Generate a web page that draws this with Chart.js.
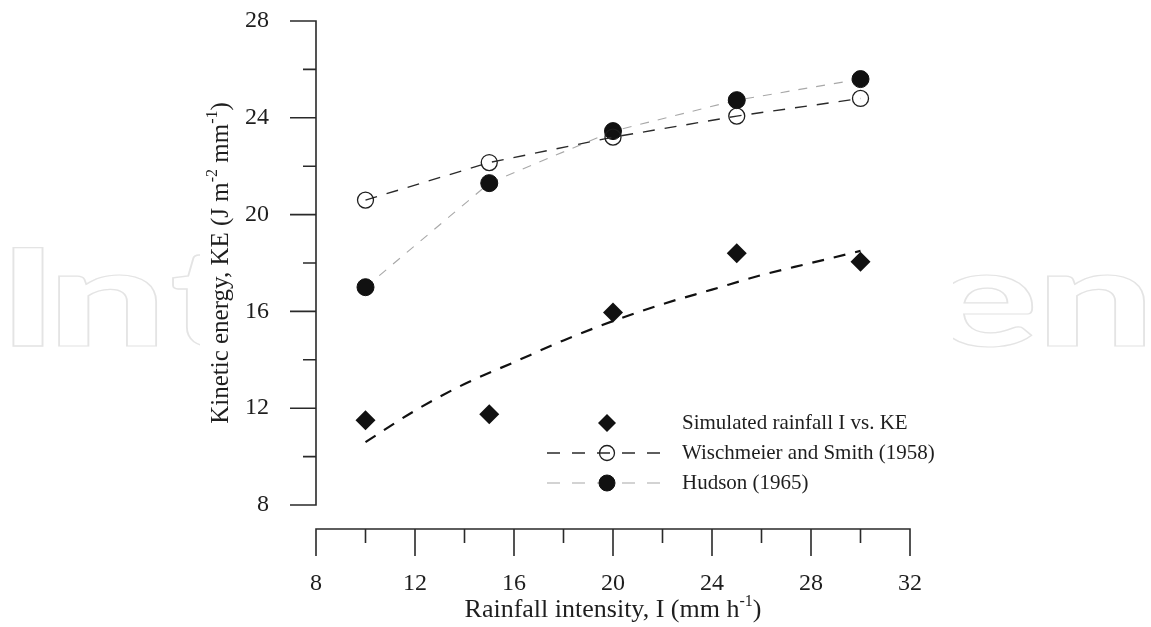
<!DOCTYPE html>
<html><head><meta charset="utf-8">
<script src="https://cdn.jsdelivr.net/npm/chart.js@4.4.1/dist/chart.umd.min.js"></script>
<style>html,body{margin:0;padding:0;background:#fff}#wrap{width:1151px;height:627px;position:relative}</style>
</head><body><div id="wrap"><canvas id="c"></canvas></div>
<script>
// ---- data ----
const intensity = [10, 15, 20, 25, 30];
const simulatedKE = [11.5, 11.75, 15.95, 18.4, 18.05];
const wischmeierKE = [20.6, 22.15, 23.2, 24.07, 24.8];
const hudsonKE = [17.0, 21.3, 23.45, 24.73, 25.6];
const fitIntensity = [10, 12, 14, 16, 18, 20, 22, 24, 26, 28, 30];
const fitKE = [10.6, 11.9, 13.0, 13.9, 14.8, 15.6, 16.3, 16.9, 17.5, 18.0, 18.5];
const xRange = [8, 32];
const yRange = [8, 28];
const tickStep = 4;
const seriesNames = ['Simulated rainfall I vs. KE', 'Wischmeier and Smith (1958)', 'Hudson (1965)'];
const xTitle = ['Rainfall intensity, I (mm h', '-1', ')'];
const yTitle = ['Kinetic energy, KE (J m', '-2', ' mm', '-1', ')'];
const watermark = 'IntechOpen';

const SERIF = '"Liberation Serif", "Times New Roman", serif';
const INK = '#1e1e1e';
const pts = (xs, ys) => xs.map((v, i) => ({x: v, y: ys[i]}));

function drawRich(ctx, parts, cx, cy, size) {
  const supSize = Math.round(size * 0.62);
  let total = 0;
  const widths = parts.map((p, i) => {
    ctx.font = (i % 2 ? supSize : size) + 'px ' + SERIF;
    const w = ctx.measureText(p).width; total += w; return w;
  });
  let x = cx - total / 2;
  ctx.textAlign = 'left'; ctx.textBaseline = 'middle';
  parts.forEach((p, i) => {
    ctx.font = (i % 2 ? supSize : size) + 'px ' + SERIF;
    ctx.fillText(p, x, i % 2 ? cy - size * 0.33 : cy);
    x += widths[i];
  });
}

function wmLetter(ctx, ch, x0, x1, base) {
  ctx.font = '900 135px Lato';
  const m = ctx.measureText(ch);
  const inkW = m.actualBoundingBoxRight + m.actualBoundingBoxLeft;
  const sx = (x1 - x0) / inkW;
  ctx.save();
  ctx.translate(x0, base);
  ctx.scale(sx, 1);
  ctx.lineWidth = 1.8 / sx;
  ctx.strokeText(ch, m.actualBoundingBoxLeft, 0);
  ctx.restore();
}

const backgroundPlugin = {
  id: 'bg',
  beforeDraw(chart) {
    const ctx = chart.ctx;
    ctx.save();
    ctx.fillStyle = '#fff';
    ctx.fillRect(0, 0, chart.width, chart.height);
    ctx.strokeStyle = '#e4e4e4';
    ctx.textAlign = 'left'; ctx.textBaseline = 'alphabetic';
    const base = 346;
    wmLetter(ctx, watermark[0], 13, 43, base);
    wmLetter(ctx, watermark[1], 58, 157, base);
    wmLetter(ctx, watermark[2], 173, 240, base);
    wmLetter(ctx, watermark[8], 935, 1033, base);
    wmLetter(ctx, watermark[9], 1047, 1145, base);
    ctx.fillStyle = '#fff';
    ctx.fillRect(200, 0, 753, chart.height);
    ctx.restore();
  }
};

const axesPlugin = {
  id: 'offsetAxes',
  beforeDatasetsDraw(chart) {
    const {ctx, chartArea, scales: {x, y}} = chart;
    ctx.save();
    ctx.strokeStyle = '#2a2a2a';
    ctx.lineWidth = 1.6;
    // y axis
    const ax = chartArea.left;
    ctx.beginPath();
    ctx.moveTo(ax, y.getPixelForValue(yRange[0]) + 0.8);
    ctx.lineTo(ax, y.getPixelForValue(yRange[1]) - 0.8);
    for (let v = yRange[0]; v <= yRange[1]; v += tickStep / 2) {
      const py = y.getPixelForValue(v);
      const len = (v - yRange[0]) % tickStep === 0 ? 26 : 13;
      ctx.moveTo(ax - len, py); ctx.lineTo(ax, py);
    }
    // x axis (offset below plot)
    const ay = chartArea.bottom + 24;
    ctx.moveTo(x.getPixelForValue(xRange[0]) - 0.8, ay);
    ctx.lineTo(x.getPixelForValue(xRange[1]) + 0.8, ay);
    for (let v = xRange[0]; v <= xRange[1]; v += tickStep / 2) {
      const px = x.getPixelForValue(v);
      const len = (v - xRange[0]) % tickStep === 0 ? 27 : 14;
      ctx.moveTo(px, ay); ctx.lineTo(px, ay + len);
    }
    ctx.stroke();
    // axis titles
    ctx.fillStyle = INK;
    drawRich(ctx, xTitle, (chartArea.left + chartArea.right) / 2, 610, 26);
    ctx.translate(221, (chartArea.top + chartArea.bottom) / 2);
    ctx.rotate(-Math.PI / 2);
    drawRich(ctx, yTitle, 0, 0, 25);
    ctx.restore();
  }
};

const legendPlugin = {
  id: 'customLegend',
  afterDraw(chart) {
    const ctx = chart.ctx;
    const ds = chart.data.datasets;
    const rows = [{d: ds[0], y: 423}, {d: ds[2], y: 453}, {d: ds[3], y: 483}];
    const mx = 607, tx = 682;
    ctx.save();
    rows.forEach((r, i) => {
      const d = r.d;
      if (i > 0) {
        ctx.strokeStyle = d.borderColor; ctx.lineWidth = d.borderWidth;
        ctx.setLineDash([13, 12]);
        ctx.beginPath(); ctx.moveTo(547, r.y); ctx.lineTo(663, r.y); ctx.stroke();
        ctx.setLineDash([]);
        ctx.beginPath(); ctx.arc(mx, r.y, d.pointRadius - 0.5, 0, Math.PI * 2);
        ctx.fillStyle = d.pointBackgroundColor; ctx.fill();
        ctx.strokeStyle = d.pointBorderColor; ctx.lineWidth = d.pointBorderWidth; ctx.stroke();
      } else {
        const rr = d.pointRadius - 1;
        ctx.beginPath();
        ctx.moveTo(mx - rr, r.y); ctx.lineTo(mx, r.y - rr); ctx.lineTo(mx + rr, r.y); ctx.lineTo(mx, r.y + rr);
        ctx.closePath(); ctx.fillStyle = d.backgroundColor; ctx.fill();
      }
      ctx.fillStyle = INK; ctx.font = '21px ' + SERIF;
      ctx.textAlign = 'left'; ctx.textBaseline = 'middle';
      ctx.fillText(d.label, tx, r.y);
    });
    ctx.restore();
  }
};

new Chart(document.getElementById('c'), {
  type: 'scatter',
  data: {
    datasets: [
      {label: seriesNames[0], data: pts(intensity, simulatedKE), showLine: false,
       pointStyle: 'rectRot', pointRadius: 10, pointHoverRadius: 10,
       backgroundColor: '#111', borderColor: '#111', borderWidth: 0},
      {label: 'fit', data: pts(fitIntensity, fitKE), showLine: true, pointRadius: 0,
       borderColor: '#111', borderWidth: 2.2, borderDash: [12, 10], cubicInterpolationMode: 'monotone', fill: false},
      {label: seriesNames[1], data: pts(intensity, wischmeierKE), showLine: true,
       borderColor: '#2a2a2a', borderWidth: 1.4, borderDash: [12, 10],
       pointStyle: 'circle', pointRadius: 8, pointBackgroundColor: 'rgba(255,255,255,0)',
       pointBorderColor: '#1e1e1e', pointBorderWidth: 1.3},
      {label: seriesNames[2], data: pts(intensity, hudsonKE), showLine: true,
       borderColor: '#a8a8a8', borderWidth: 1.1, borderDash: [9, 9],
       pointStyle: 'circle', pointRadius: 8.5, pointBackgroundColor: '#111',
       pointBorderColor: '#111', pointBorderWidth: 1}
    ]
  },
  options: {
    responsive: true, maintainAspectRatio: false, animation: false,
    events: [],
    layout: {padding: {top: 21, right: 241, bottom: 0, left: 0}},
    plugins: {legend: {display: false}, tooltip: {enabled: false}},
    scales: {
      x: {type: 'linear', min: xRange[0], max: xRange[1],
          grid: {display: false}, border: {display: false},
          ticks: {stepSize: tickStep, color: INK, padding: 56, font: {size: 24, family: SERIF, lineHeight: 1.2}},
          afterFit: s => { s.height = 122; s.paddingLeft = 0; s.paddingRight = 0; }},
      y: {type: 'linear', min: yRange[0], max: yRange[1],
          grid: {display: false}, border: {display: false},
          ticks: {stepSize: tickStep, color: INK, padding: 39, font: {size: 24, family: SERIF}},
          afterFit: s => { s.width = 316; s.paddingTop = 0; s.paddingBottom = 0; }}
    }
  },
  plugins: [backgroundPlugin, axesPlugin, legendPlugin]
});
</script></body></html>
